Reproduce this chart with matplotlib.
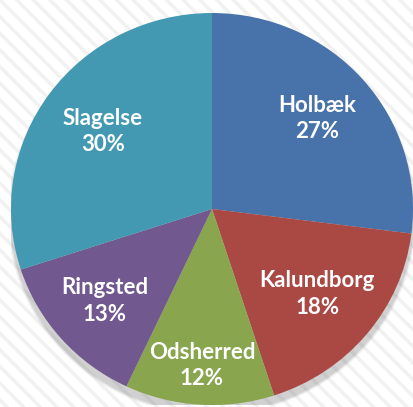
import matplotlib.pyplot as plt
import numpy as np
from matplotlib.patches import Ellipse, Rectangle

plt.rcParams["hatch.linewidth"] = 2.5
plt.rcParams["hatch.color"] = "#f1f1f1"

# Data (clockwise from 12 o'clock)
names = ["Holbæk", "Kalundborg", "Odsherred", "Ringsted", "Slagelse"]
shares = [27, 18, 12, 13, 30]

colors = ["#4773AA", "#AA4944", "#89A54E", "#71588F", "#4299B1"]
label_dist = [0.70, 0.68, 0.80, 0.71, 0.67]

fig = plt.figure(figsize=(4.14, 4.07), dpi=100)

# Faint diagonal striped background
bg = Rectangle((0, 0), 1, 1, transform=fig.transFigure, facecolor="white",
               edgecolor="#f1f1f1", hatch="\\\\", linewidth=0, zorder=-10)
fig.patches.append(bg)

ax = fig.add_axes([11 / 414, 2 / 407, 402 / 414, 392 / 407])

# Soft drop shadow under the pie
for i, a in enumerate([0.05, 0.06, 0.08, 0.10]):
    grow = 0.035 - i * 0.008
    ax.add_patch(Ellipse((0.0, -0.035), 2 + grow, 2 + grow, facecolor="#555555",
                         edgecolor="none", alpha=a, zorder=0))

wedges, _ = ax.pie(shares, colors=colors, startangle=90, counterclock=False,
                   radius=1.0, wedgeprops=dict(linewidth=0.6, edgecolor="none"),
                   frame=True)
ax.set_xlim(-1, 1)
ax.set_ylim(-1, 1)
ax.set_aspect("auto")
ax.axis("off")
for w in wedges:
    w.set_zorder(2)

for w, name, pct, d in zip(wedges, names, shares, label_dist):
    mid = np.deg2rad((w.theta1 + w.theta2) / 2)
    ax.text(d * np.cos(mid), d * np.sin(mid), f"{name}\n{pct}%",
            ha="center", va="center", color="white", fontsize=16,
            fontweight="bold", family=["Lato", "DejaVu Sans"],
            linespacing=1.3, zorder=5)

fig.savefig("out.png", dpi=100)
